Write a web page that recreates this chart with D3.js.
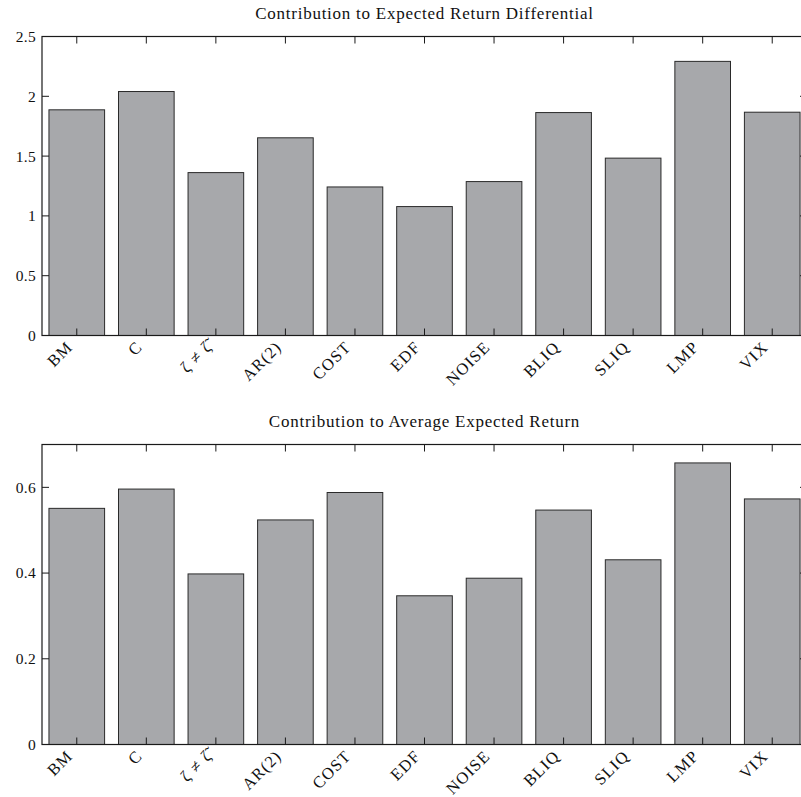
<!DOCTYPE html>
<html>
<head>
<meta charset="utf-8">
<script src="https://cdn.jsdelivr.net/npm/d3@7"></script>
<style>
  html, body { margin: 0; padding: 0; background: #fff; }
  svg { display: block; }
  text { font-family: "Liberation Serif", "DejaVu Serif", serif; fill: #111; }
</style>
</head>
<body>
<svg id="chart" width="801" height="797"></svg>
<script>
// Factor names shared by both panels
const categories = ["BM", "C", "\u03B6 \u2260 \u03B6\u0303", "AR(2)", "COST", "EDF", "NOISE", "BLIQ", "SLIQ", "LMP", "VIX"];

// Contribution to expected return differential
const differentialValues = [1.887, 2.04, 1.362, 1.653, 1.242, 1.078, 1.287, 1.864, 1.483, 2.292, 1.867];
const differentialTicks = [0, 0.5, 1, 1.5, 2, 2.5];
const differentialTickLabels = ["0", "0.5", "1", "1.5", "2", "2.5"];

// Contribution to average expected return
const averageValues = [0.551, 0.596, 0.398, 0.524, 0.588, 0.347, 0.388, 0.547, 0.431, 0.657, 0.573];
const averageTicks = [0, 0.2, 0.4, 0.6];
const averageTickLabels = ["0", "0.2", "0.4", "0.6"];

const svg = d3.select("#chart");

function drawPanel(cfg) {
  const { top, bottom, left, right, yMax, values, ticks, tickLabels, title } = cfg;
  const g = svg.append("g");

  const x = d3.scaleLinear().domain([0.5, categories.length + 0.5]).range([left, right]);
  const y = d3.scaleLinear().domain([0, yMax]).range([bottom, top]);
  const barW = x(1.4) - x(0.6);

  // bars
  g.selectAll("rect.bar")
    .data(values)
    .join("rect")
    .attr("class", "bar")
    .attr("x", (d, i) => x(i + 1) - barW / 2)
    .attr("y", d => y(d))
    .attr("width", barW)
    .attr("height", d => y(0) - y(d))
    .attr("fill", "#a7a8ab")
    .attr("stroke", "#2a2a2a")
    .attr("stroke-width", 1);

  const idx = d3.range(1, categories.length + 1);
  const tickLen = 7;

  // axis box
  g.append("rect")
    .attr("x", left).attr("y", top)
    .attr("width", right - left).attr("height", bottom - top)
    .attr("fill", "none").attr("stroke", "#1a1a1a").attr("stroke-width", 1.2);

  // x ticks on top and bottom edges
  const tickPath = d3.path();
  idx.forEach(i => {
    tickPath.moveTo(x(i), top); tickPath.lineTo(x(i), top + tickLen);
    tickPath.moveTo(x(i), bottom); tickPath.lineTo(x(i), bottom - tickLen);
  });
  // y ticks on left and right edges
  ticks.forEach(t => {
    tickPath.moveTo(left, y(t)); tickPath.lineTo(left + tickLen, y(t));
    tickPath.moveTo(right, y(t)); tickPath.lineTo(right - tickLen, y(t));
  });
  g.append("path").attr("d", tickPath.toString())
    .attr("stroke", "#1a1a1a").attr("stroke-width", 1).attr("fill", "none");

  // y tick labels
  g.selectAll("text.ylab")
    .data(ticks)
    .join("text")
    .attr("class", "ylab")
    .attr("x", left - 6)
    .attr("y", d => y(d))
    .attr("dy", "0.35em")
    .attr("text-anchor", "end")
    .attr("font-size", 15.5)
    .attr("letter-spacing", 0.3)
    .text((d, i) => tickLabels[i]);

  // rotated category labels
  g.selectAll("text.xlab")
    .data(categories)
    .join("text")
    .attr("class", "xlab")
    .attr("text-anchor", "end")
    .attr("font-size", 16.5)
    .attr("letter-spacing", 1.1)
    .attr("transform", (d, i) => `translate(${x(i + 1) - 3},${bottom + 12.5}) rotate(-45)`)
    .text(d => d);

  // title
  g.append("text")
    .attr("x", (left + right) / 2)
    .attr("y", top - 18)
    .attr("text-anchor", "middle")
    .attr("font-size", 17)
    .attr("letter-spacing", 0.75)
    .text(title);
}

drawPanel({
  top: 36.5, bottom: 335.5, left: 42, right: 807, yMax: 2.5,
  values: differentialValues, ticks: differentialTicks, tickLabels: differentialTickLabels,
  title: "Contribution to Expected Return Differential"
});

drawPanel({
  top: 444.5, bottom: 744.5, left: 42, right: 807, yMax: 0.7,
  values: averageValues, ticks: averageTicks, tickLabels: averageTickLabels,
  title: "Contribution to Average Expected Return"
});
</script>
</body>
</html>
